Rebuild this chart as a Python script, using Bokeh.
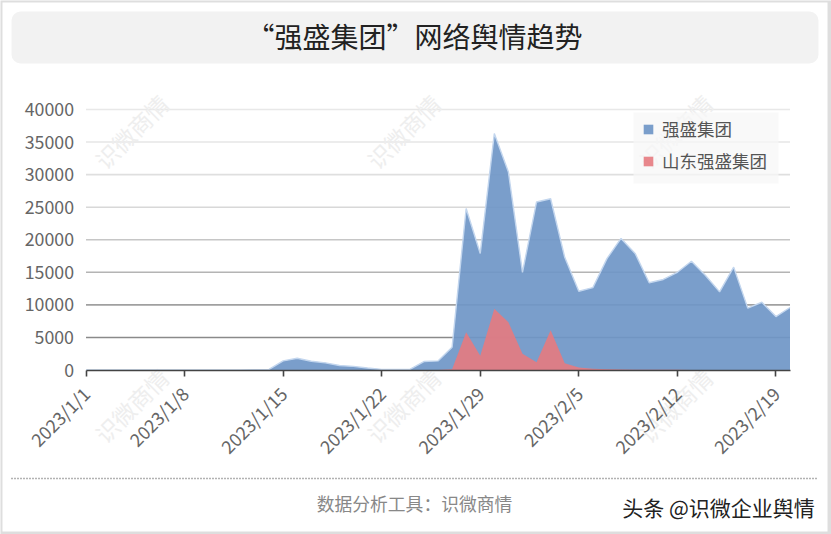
from math import pi
from bokeh.embed import file_html
from bokeh.resources import INLINE
from bokeh.plotting import figure
from bokeh.models import (Arrow, BoxAnnotation, ColumnDataSource, FixedTicker, Label, Legend,
                          LegendItem, LinearAxis, Range1d)

title_text = "“强盛集团”网络舆情趋势"
footer_text = "数据分析工具\uff1a识微商情"
credit_text = "头条 @识微企业舆情"
watermark_text = "识微商情"
series_a_name = "强盛集团"
series_b_name = "山东强盛集团"

days = list(range(51))
series_a = [0, 0, 0, 0, 0, 0, 0, 0, 0, 0, 0, 0, 50, 100, 1400, 1800, 1350, 1100, 700, 550, 300, 100, 100, 100,
            1300, 1400, 3500, 24800, 17900, 36300, 30400, 15000, 25800, 26300, 17300, 12100, 12650, 17100,
            20200, 17900, 13400, 13900, 15000, 16700, 14500, 12000, 15800, 9500, 10400, 8200, 9600]
series_b = [0] * 26 + [100, 5800, 2200, 9400, 7350, 2500, 1200, 6100, 1050, 400, 200, 100, 60, 40, 30, 20,
                       20, 10, 10, 10, 10, 10, 10, 10, 10]
tick_days = [0, 7, 14, 21, 28, 35, 42, 49]
tick_labels = ["2023/1/1", "2023/1/8", "2023/1/15", "2023/1/22", "2023/1/29", "2023/2/5", "2023/2/12", "2023/2/19"]
y_ticks = [0, 5000, 10000, 15000, 20000, 25000, 30000, 35000, 40000]
grid_ticks = [5000, 10000, 15000, 20000, 25000, 30000, 35000, 40000]
grid_colors = ["#8a8a8a", "#a0a0a0", "#b4b4b4", "#c6c6c6", "#d8d8d8", "#dfdfdf", "#e6e6e6", "#e8e8e8"]

W, H = 831, 534
X0_PX, X1_PX = 85.5, 789.5     # day 0 and day 50 on the page
Y0_PX, Y1_PX = 369.5, 109.0    # 0 and 40000 on the page
px_per_day = (X1_PX - X0_PX) / (days[-1] - days[0])
px_per_unit = (Y0_PX - Y1_PX) / y_ticks[-1]


def sx(px):
    return px


def sy(py):
    return H - py


def screen_box(l, t, r, b, **kw):
    return BoxAnnotation(left=sx(l), right=sx(r), top=sy(t), bottom=sy(b),
                         left_units="screen", right_units="screen", top_units="screen", bottom_units="screen", **kw)


p = figure(width=W, height=H, output_backend="svg", toolbar_location=None,
           x_range=Range1d(-X0_PX / px_per_day, (W - X0_PX) / px_per_day),
           y_range=Range1d(-(H - Y0_PX) / px_per_unit, Y0_PX / px_per_unit),
           x_axis_location=None, y_axis_location=None,
           min_border=0, min_border_left=0, min_border_right=0, min_border_top=0, min_border_bottom=0,
           outline_line_color=None, background_fill_color="#dedede", border_fill_color="#dedede")
p.grid.visible = False

p.add_layout(screen_box(2, 2, 827, 531, fill_color="white", fill_alpha=1, line_color=None, level="image"))
p.add_layout(screen_box(11, 11, 818, 63, fill_color="#f2f2f2", fill_alpha=1, line_color=None,
                        border_radius=9, level="underlay"))

for wx, wy in [(131, 131), (403, 131), (675, 131), (131, 405), (403, 405), (675, 405)]:
    p.add_layout(Label(x=sx(wx), y=sy(wy), x_units="screen", y_units="screen", text=watermark_text,
                       text_font="Noto Sans CJK SC", text_font_size="23px", text_color="#eeeeee",
                       angle=pi / 4, text_align="center", text_baseline="middle", level="underlay"))

p.segment(x0=[days[0]] * len(grid_ticks), x1=[days[-1]] * len(grid_ticks), y0=grid_ticks, y1=grid_ticks,
          line_color=grid_colors, line_width=1.6, level="underlay")

src = ColumnDataSource(dict(d=days, a=series_a, b=series_b, z=[0] * len(days)))
ra = p.varea(x="d", y1="z", y2="a", source=src, fill_color="#6f96c7", fill_alpha=0.92)
p.line(x="d", y="a", source=src, line_color="#c3d6ee", line_width=1.4)
rb = p.varea(x="d", y1="z", y2="b", source=src, fill_color="#e57a7f", fill_alpha=0.9)

xaxis = LinearAxis(fixed_location=0, bounds=(days[0], days[-1]), ticker=FixedTicker(ticks=tick_days),
                   major_label_overrides=dict(zip(tick_days, tick_labels)),
                   major_label_orientation=pi / 4, major_label_text_font="Noto Sans CJK SC",
                   major_label_text_font_size="18px", major_label_text_color="#666666",
                   major_label_standoff=14, axis_line_color="#444444", axis_line_width=1.6,
                   major_tick_line_color="#444444", major_tick_line_width=1.6,
                   major_tick_out=6, major_tick_in=0, minor_tick_line_color=None)
p.add_layout(xaxis, "below")

yaxis = LinearAxis(fixed_location=0, bounds=(y_ticks[0], y_ticks[-1]), ticker=FixedTicker(ticks=y_ticks),
                   major_label_text_font="Noto Sans CJK SC", major_label_text_font_size="17.8px",
                   major_label_text_color="#666666", major_label_standoff=12,
                   axis_line_color=None, major_tick_line_color=None, major_tick_out=0, major_tick_in=0,
                   minor_tick_line_color=None)
yaxis.formatter.use_scientific = False
p.add_layout(yaxis, "left")

p.add_layout(screen_box(633, 112, 778, 183, fill_color="#f7f7f7", fill_alpha=0.75, line_color=None, level="glyph"))

legend = Legend(items=[LegendItem(label=series_a_name, renderers=[ra]),
                       LegendItem(label=series_b_name, renderers=[rb])],
                location=(642, 361), orientation="vertical", margin=0, padding=7, spacing=7,
                glyph_width=12, glyph_height=12, label_standoff=8, label_height=20,
                label_text_font="Noto Sans CJK SC", label_text_font_size="17.5px",
                label_text_color="#555555", label_text_baseline="middle",
                background_fill_alpha=0, border_line_color=None)
p.add_layout(legend, "center")

p.add_layout(Label(x=sx(422), y=sy(35.5), x_units="screen", y_units="screen", text=title_text, x_offset=-8,
                   text_font="Noto Sans CJK SC", text_font_size="28px", text_color="#222222",
                   text_align="center", text_baseline="middle"))
p.add_layout(Label(x=sx(414), y=sy(502), x_units="screen", y_units="screen", text=footer_text,
                   text_font="Noto Sans CJK SC", text_font_size="17.8px", text_color="#888888",
                   text_align="center", text_baseline="middle"))
p.add_layout(Label(x=sx(718), y=sy(506), x_units="screen", y_units="screen", text=credit_text,
                   text_font="Noto Sans CJK SC", text_font_size="21px", text_color="#222222",
                   text_align="center", text_baseline="middle"))
p.add_layout(Arrow(end=None, x_start=sx(11), y_start=sy(478), x_end=sx(818), y_end=sy(478),
                   start_units="screen", end_units="screen", line_color="#666666", line_width=1.4,
                   line_dash=[1, 2]))

open("out.html", "w").write(file_html(p, INLINE))
